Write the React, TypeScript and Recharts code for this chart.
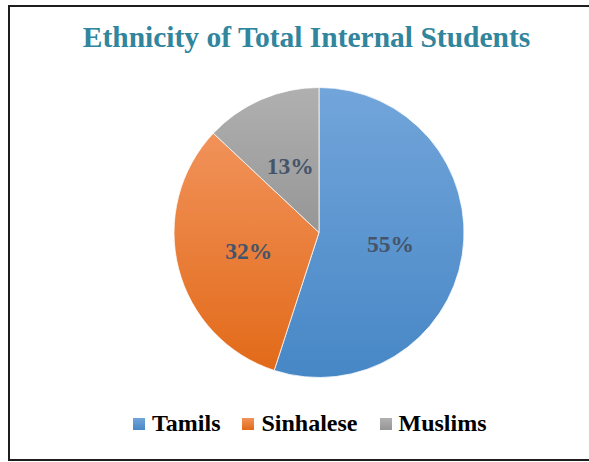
import { Legend, Pie, PieChart, Cell } from "recharts";

const groups = ["Tamils", "Sinhalese", "Muslims"];
const shares = [55, 32, 13];
const palette = [
  { id: "gTamils", top: "#72a5da", bottom: "#4787c6" },
  { id: "gSinhalese", top: "#f1925a", bottom: "#e26a19" },
  { id: "gMuslims", top: "#b0b0b0", bottom: "#969696" },
];

const data = groups.map((name, i) => ({ name, value: shares[i] }));

const RAD = Math.PI / 180;
const serif = '"Times New Roman", "Liberation Serif", serif';

const renderLabel = (p: any) => {
  const r = p.outerRadius * 0.5;
  const x = p.cx + r * Math.cos(-p.midAngle * RAD);
  const y = p.cy + r * Math.sin(-p.midAngle * RAD);
  return (
    <text
      x={x}
      y={y}
      fill="#44546a"
      textAnchor="middle"
      dominantBaseline="central"
      fontFamily={serif}
      fontWeight="bold"
      fontSize={23.5}
    >
      {`${p.value}%`}
    </text>
  );
};

const renderLegend = () => (
  <div style={{ display: "flex", alignItems: "center", fontFamily: serif, fontWeight: "bold", fontSize: 24, color: "#000", whiteSpace: "nowrap" }}>
    {groups.map((g, i) => (
      <div key={g} style={{ display: "flex", alignItems: "center", marginRight: 22 }}>
        <svg width={12} height={12} style={{ marginRight: 7 }}>
          <rect width={12} height={12} fill={`url(#${palette[i].id})`} />
        </svg>
        <span>{g}</span>
      </div>
    ))}
  </div>
);

export default function App() {
  return (
    <div style={{ position: "fixed", left: 0, top: 0, width: 589, height: 462, overflow: "hidden", background: "#fff" }}>
      <svg width={589} height={462} style={{ position: "absolute", left: 0, top: 0 }}>
        <defs>
          {palette.map((c) => (
            <linearGradient key={c.id} id={c.id} x1="0" y1="0" x2="0" y2="1">
              <stop offset="0%" stopColor={c.top} />
              <stop offset="100%" stopColor={c.bottom} />
            </linearGradient>
          ))}
        </defs>
        <path d="M589,6 H9 V460 H589" fill="none" stroke="#1e1e1e" strokeWidth={2} />
        <text x={306.5} y={46.5} textAnchor="middle" fill="#31859c" fontFamily={serif} fontWeight="bold" fontSize={29.5}>
          Ethnicity of Total Internal Students
        </text>
      </svg>
      <div style={{ position: "absolute", left: 0, top: 0 }}>
        <PieChart width={589} height={462}>
          <Pie
            data={data}
            dataKey="value"
            nameKey="name"
            cx={314}
            cy={227.5}
            outerRadius={145}
            startAngle={90}
            endAngle={-270}
            stroke="#fff"
            strokeWidth={0.75}
            label={renderLabel}
            labelLine={false}
            isAnimationActive={false}
          >
            {data.map((d, i) => (
              <Cell key={d.name} fill={`url(#${palette[i].id})`} />
            ))}
          </Pie>
          <Legend content={renderLegend} wrapperStyle={{ left: 133, top: 410, width: "auto" }} />
        </PieChart>
      </div>
    </div>
  );
}
